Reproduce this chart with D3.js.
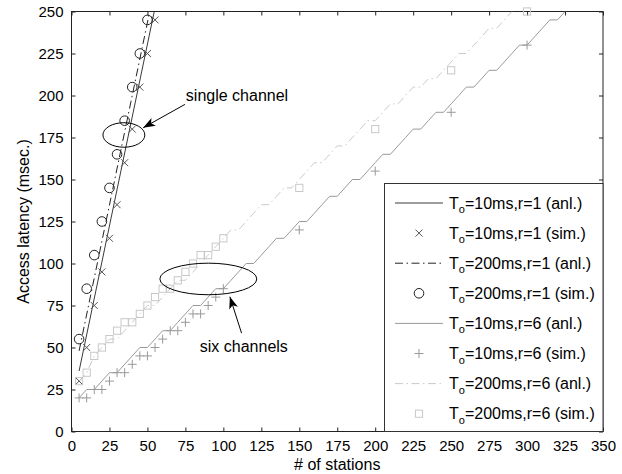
<!DOCTYPE html>
<html>
<head>
<meta charset="utf-8">
<script src="https://d3js.org/d3.v7.min.js"></script>
<style>
    body { margin: 0; background: #fff; }
    text { font-family: "Liberation Sans", Arial, sans-serif; fill: #000; }
</style>
</head>
<body>
<div id="myPlot"></div>
<script>
    // values: [stations, latency ms]
    const anl10r1 = [[5, 36], [54.5, 250]];
    const sim10r1 = [[5, 30], [10, 50], [15, 75], [20, 95], [25, 115], [30, 135], [35, 160], [40, 180], [45, 205], [50, 225], [55, 245]];
    const anl200r1 = [[5, 48], [51.5, 250]];
    const sim200r1 = [[5, 55], [10, 85], [15, 105], [20, 125], [25, 145], [30, 165], [35, 185], [40, 205], [45, 225], [50, 245]];
    const anl10r6 = [[5, 20], [10, 25], [15, 25], [20, 30], [25, 35], [30, 35], [35, 40], [40, 45], [45, 50], [50, 50],
        [55, 55], [60, 60], [65, 60], [70, 65], [75, 70], [80, 75], [85, 75], [90, 80], [95, 85], [100, 85],
        [105, 90], [110, 95], [115, 100], [120, 100], [125, 105], [130, 110], [135, 115], [140, 115], [145, 120], [150, 125],
        [155, 125], [160, 130], [165, 135], [170, 140], [175, 140], [180, 145], [185, 150], [190, 150], [195, 155], [200, 160],
        [205, 165], [210, 165], [215, 170], [220, 175], [225, 180], [230, 180], [235, 185], [240, 190], [245, 190], [250, 195],
        [255, 200], [260, 205], [265, 205], [270, 210], [275, 215], [280, 215], [285, 220], [290, 225], [295, 230], [300, 230],
        [305, 235], [310, 240], [315, 245], [320, 245], [325, 250]];
    const sim10r6 = [[5, 20], [10, 20], [15, 25], [20, 25], [25, 30], [30, 35], [35, 35], [40, 40], [45, 45], [50, 45],
        [55, 50], [60, 55], [65, 60], [70, 60], [75, 65], [80, 70], [85, 70], [90, 75], [95, 80], [100, 85],
        [150, 120], [200, 155], [250, 190], [300, 230]];
    const anl200r6 = [[5, 30], [10, 35], [15, 45], [20, 50], [25, 55], [30, 55], [35, 60], [40, 65], [45, 70], [50, 75],
        [55, 75], [60, 80], [65, 85], [70, 90], [75, 90], [80, 95], [85, 100], [90, 105], [95, 110], [100, 115],
        [105, 120], [110, 120], [115, 125], [120, 130], [125, 135], [130, 135], [135, 140], [140, 145], [145, 145], [150, 150],
        [155, 155], [160, 160], [165, 160], [170, 165], [175, 170], [180, 170], [185, 175], [190, 180], [195, 185], [200, 185],
        [205, 190], [210, 195], [215, 195], [220, 200], [225, 205], [230, 205], [235, 210], [240, 210], [245, 215], [250, 220],
        [255, 225], [260, 225], [265, 230], [270, 235], [275, 240], [280, 240], [285, 245], [290, 250]];
    const sim200r6 = [[5, 30], [10, 35], [15, 45], [20, 50], [25, 55], [30, 60], [35, 65], [40, 65], [45, 70], [50, 75],
        [55, 80], [60, 85], [65, 85], [70, 90], [75, 95], [80, 100], [85, 105], [90, 105], [95, 110], [100, 115],
        [150, 145], [200, 180], [250, 215], [300, 250]];

    const xTicks = [0, 25, 50, 75, 100, 125, 150, 175, 200, 225, 250, 275, 300, 325, 350];
    const yTicks = [0, 25, 50, 75, 100, 125, 150, 175, 200, 225, 250];
    const legendLabels = ["=10ms,r=1 (anl.)", "=10ms,r=1 (sim.)", "=200ms,r=1 (anl.)", "=200ms,r=1 (sim.)",
        "=10ms,r=6 (anl.)", "=10ms,r=6 (sim.)", "=200ms,r=6 (anl.)", "=200ms,r=6 (sim.)"];

    // annotations in data units
    const ellipses = [{ cx: 34.5, cy: 176.5, rx: 13.8, ry: 7.3 }, { cx: 90.1, cy: 90.8, rx: 31.9, ry: 9.4 }];
    const arrows = [{ x1: 74.7, y1: 194.7, x2: 47.2, y2: 180.8 }, { x1: 112, y1: 58.5, x2: 104.3, y2: 80.2 }];
    const notes = [{ x: 75.3, y: 196.5, text: "single channel" }, { x: 84.5, y: 47.3, text: "six channels" }];

    const width = 622, height = 474;
    const x = d3.scaleLinear().domain([0, 350]).range([71.5, 603]);
    const y = d3.scaleLinear().domain([0, 250]).range([431.5, 11.5]);

    const svg = d3.select("#myPlot")
        .append("svg")
        .attr("width", width)
        .attr("height", height);

    svg.append("clipPath").attr("id", "plotClip")
        .append("rect")
        .attr("x", x(0)).attr("y", y(250))
        .attr("width", x(350) - x(0)).attr("height", y(0) - y(250));

    // axes with inward ticks
    const ax = svg.append("g").attr("class", "axes");
    ax.append("g")
        .attr("transform", `translate(0,${y(0)})`)
        .call(d3.axisBottom(x).tickValues(xTicks).tickSize(-4).tickPadding(9))
        .call(g => g.select(".domain").remove());
    ax.append("g")
        .attr("transform", `translate(${x(0)},0)`)
        .call(d3.axisLeft(y).tickValues(yTicks).tickSize(-4).tickPadding(8))
        .call(g => g.select(".domain").remove());
    ax.append("g")
        .attr("transform", `translate(0,${y(250)})`)
        .call(d3.axisTop(x).tickValues(xTicks).tickSize(-4).tickFormat(""))
        .call(g => g.select(".domain").remove());
    ax.append("g")
        .attr("transform", `translate(${x(350)},0)`)
        .call(d3.axisRight(y).tickValues(yTicks).tickSize(-4).tickFormat(""))
        .call(g => g.select(".domain").remove());
    ax.selectAll("line").attr("stroke", "#222");
    ax.selectAll("text").attr("font-size", 15).attr("fill", "#000")
        .attr("font-family", "Liberation Sans, Arial, sans-serif");

    svg.append("rect")
        .attr("x", x(0)).attr("y", y(250))
        .attr("width", x(350) - x(0)).attr("height", y(0) - y(250))
        .attr("fill", "none").attr("stroke", "#222").attr("stroke-width", 1);

    svg.append("text")
        .attr("x", (x(0) + x(350)) / 2).attr("y", 470)
        .attr("text-anchor", "middle").attr("font-size", 16)
        .text("# of stations");
    svg.append("text")
        .attr("transform", `translate(29,${(y(0) + y(250)) / 2}) rotate(-90)`)
        .attr("text-anchor", "middle").attr("font-size", 16)
        .text("Access latency (msec.)");

    const line = d3.line().x(d => x(d[0])).y(d => y(d[1]));
    const dashDot = "8,3.5,1.5,3.5";

    const series = [
        { data: anl10r1, type: "line", color: "#3a3a3a", dash: null },
        { data: sim10r1, type: "x", color: "#555" },
        { data: anl200r1, type: "line", color: "#222", dash: dashDot },
        { data: sim200r1, type: "circle", color: "#222" },
        { data: anl10r6, type: "line", color: "#999", dash: null },
        { data: sim10r6, type: "plus", color: "#999" },
        { data: anl200r6, type: "line", color: "#cacaca", dash: dashDot },
        { data: sim200r6, type: "square", color: "#c8c8c8" }
    ];

    function drawMarker(g, type, color) {
        if (type === "x") {
            g.append("path").attr("d", "M-3.5,-3.5L3.5,3.5M-3.5,3.5L3.5,-3.5")
                .attr("stroke", color).attr("fill", "none");
        } else if (type === "plus") {
            g.append("path").attr("d", "M-4.5,0L4.5,0M0,-4.5L0,4.5")
                .attr("stroke", color).attr("fill", "none");
        } else if (type === "circle") {
            g.append("circle").attr("r", 4.8)
                .attr("stroke", color).attr("fill", "none");
        } else if (type === "square") {
            g.append("rect").attr("x", -3.6).attr("y", -3.6).attr("width", 7.2).attr("height", 7.2)
                .attr("stroke", color).attr("fill", "none");
        }
    }

    const plot = svg.append("g");
    series.forEach(s => {
        if (s.type === "line") {
            plot.append("path")
                .datum(s.data)
                .attr("clip-path", "url(#plotClip)")
                .attr("fill", "none")
                .attr("stroke", s.color)
                .attr("stroke-width", 1)
                .attr("stroke-dasharray", s.dash)
                .attr("d", line);
        } else {
            plot.append("g").selectAll("g")
                .data(s.data)
                .join("g")
                .attr("transform", d => `translate(${x(d[0])},${y(d[1])})`)
                .each(function () { drawMarker(d3.select(this), s.type, s.color); });
        }
    });

    // annotations
    svg.append("defs").append("marker")
        .attr("id", "head")
        .attr("viewBox", "-13 -6 14 12")
        .attr("refX", 0).attr("refY", 0)
        .attr("markerUnits", "userSpaceOnUse")
        .attr("markerWidth", 14).attr("markerHeight", 12)
        .attr("orient", "auto")
        .append("path")
        .attr("d", "M0,0L-12,-4.5L-9,0L-12,4.5Z")
        .attr("fill", "#000");

    svg.selectAll(".ell")
        .data(ellipses)
        .join("ellipse")
        .attr("cx", d => x(d.cx)).attr("cy", d => y(d.cy))
        .attr("rx", d => x(d.rx) - x(0)).attr("ry", d => y(0) - y(d.ry))
        .attr("fill", "none").attr("stroke", "#000").attr("stroke-width", 1);

    svg.selectAll(".arr")
        .data(arrows)
        .join("line")
        .attr("x1", d => x(d.x1)).attr("y1", d => y(d.y1))
        .attr("x2", d => x(d.x2)).attr("y2", d => y(d.y2))
        .attr("stroke", "#000").attr("stroke-width", 1)
        .attr("marker-end", "url(#head)");

    svg.selectAll(".note")
        .data(notes)
        .join("text")
        .attr("x", d => x(d.x)).attr("y", d => y(d.y))
        .attr("font-size", 16)
        .text(d => d.text);

    // legend
    const lg = svg.append("g");
    lg.append("rect")
        .attr("x", 384.5).attr("y", 183.5).attr("width", 218.5).attr("height", 248)
        .attr("fill", "#fff").attr("stroke", "#333");
    series.forEach((s, i) => {
        const cy = 203 + i * 30.1;
        const row = lg.append("g");
        if (s.type === "line") {
            row.append("line")
                .attr("x1", 395).attr("x2", 443).attr("y1", cy).attr("y2", cy)
                .attr("stroke", s.color).attr("stroke-dasharray", s.dash);
        } else {
            drawMarker(row.append("g").attr("transform", `translate(419,${cy})`), s.type, s.color);
        }
        const t = row.append("text").attr("x", 449).attr("y", cy + 5.5).attr("font-size", 16);
        t.append("tspan").text("T");
        t.append("tspan").attr("font-size", 11).attr("dy", 4.5).text("o");
        t.append("tspan").attr("dy", -4.5).text(legendLabels[i]);
    });
</script>
</body>
</html>
